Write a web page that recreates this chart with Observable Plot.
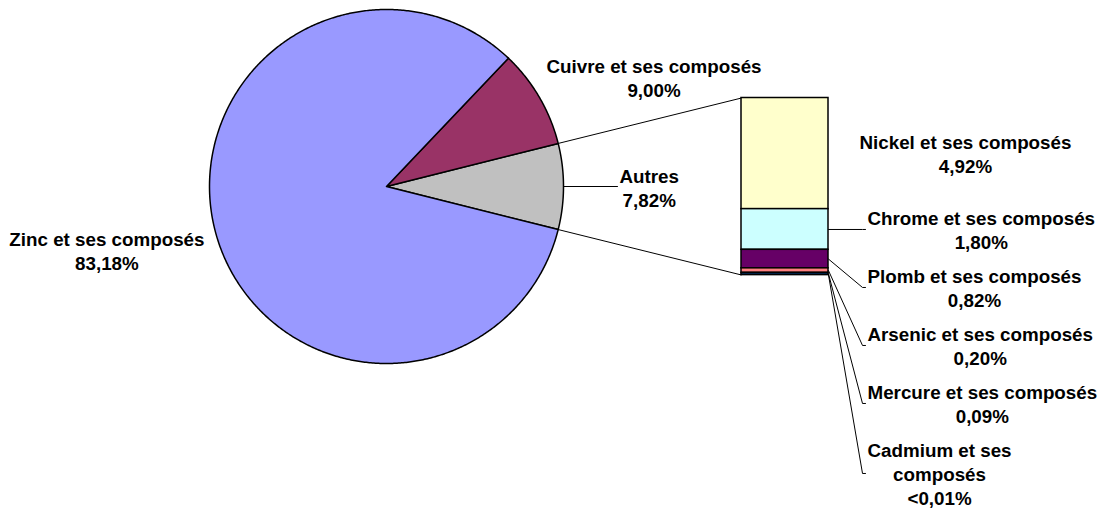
<!DOCTYPE html>
<html><head><meta charset="utf-8">
<script src="https://cdn.jsdelivr.net/npm/d3@7"></script>
<script src="https://cdn.jsdelivr.net/npm/@observablehq/plot@0.6"></script>
<style>body{margin:0;background:#fff} svg{display:block}</style>
</head><body><div id="chart"></div>
<script>
// ---- data ----
const pieNames = ["Zinc et ses composés", "Cuivre et ses composés", "Autres"];
const pieValues = [83.18, 9.00, 7.82];
const pieColors = ["#9999FF", "#993366", "#C0C0C0"];
const barNames = ["Nickel et ses composés", "Chrome et ses composés", "Plomb et ses composés",
                  "Arsenic et ses composés", "Mercure et ses composés", "Cadmium et ses composés"];
const barValues = [4.92, 1.80, 0.82, 0.20, 0.09, 0.005];
const barColors = ["#FFFFCC", "#CCFFFF", "#660066", "#FF8080", "#0066CC", "#CCCCFF"];

// ---- layout ----
const W = 1102, H = 512;
const cx = 386, cy = 186, R = 177;
const FONT = 18.8, LINE = 24;
const fontFamily = "Arial, 'Liberation Sans', sans-serif";
const ctx = document.createElement("canvas").getContext("2d");
ctx.font = `bold ${FONT}px ${fontFamily}`;
const textW = s => d3.max(s.split("\n"), l => ctx.measureText(l).width);
const fmt = v => v < 0.01 ? "<0,01%" : v.toFixed(2).replace(".", ",") + "%";
const pt = (deg, rr = R) => [cx + rr * Math.cos(deg * Math.PI / 180), cy - rr * Math.sin(deg * Math.PI / 180)];

// pie slices, "Autres" centred on the right
const total = d3.sum(pieValues);
const n = pieNames.length;
let ang = -pieValues[n - 1] / total * 180;
const slices = [];
for (let i = n - 1; i >= 0; i--) {
  const span = pieValues[i] / total * 360;
  slices.push({name: pieNames[i], value: pieValues[i], color: pieColors[i], a0: ang, a1: ang + span});
  ang += span;
}
const slicePts = slices.map(s => {
  const pts = [[cx, cy]];
  const steps = Math.max(2, Math.ceil((s.a1 - s.a0) / 0.5));
  for (let k = 0; k <= steps; k++) pts.push(pt(s.a0 + (s.a1 - s.a0) * k / steps));
  pts.push([cx, cy]);
  return pts.map(([x, y]) => ({x, y}));
});
const autres = slices[0];

// bar of pie
const barTotal = d3.sum(barValues);
const barX1 = cx + 355, barX2 = barX1 + 87;
const barY = d3.scaleLinear().domain([0, barTotal]).range([cy - R / 2, cy + R / 2]);
let cum = 0;
const segs = barNames.map((nm, i) => {
  const s = {name: nm, value: barValues[i], color: barColors[i], y1: barY(cum), y2: barY(cum + barValues[i])};
  cum += barValues[i];
  return s;
});

const connectors = [
  {p: pt(autres.a1), q: [barX1, barY(0)]},
  {p: pt(autres.a0), q: [barX1, barY(barTotal)]}
];

// labels
const labels = [];
const leaders = [];
{
  const zt = pieNames[0] + "\n" + fmt(pieValues[0]);
  labels.push({text: zt, x: cx - R - 5 - textW(zt) / 2, y: cy + 64});
  const ct = pieNames[1] + "\n" + fmt(pieValues[1]);
  labels.push({text: ct, x: cx + 160 + textW(ct) / 2, y: cy - 109});
  const at = pieNames[2] + "\n" + fmt(pieValues[2]);
  const aLeft = cx + 233;
  labels.push({text: at, x: aLeft + textW(at) / 2, y: cy + 1});
  leaders.push({id: "autres", x: cx + R, y: cy}, {id: "autres", x: aLeft - 2, y: cy});
}
let prevY = null, prevLines = 0;
segs.forEach((s, i) => {
  const left = i === 0 ? barX2 + 31 : barX2 + 39;
  let name = s.name;
  if (left + textW(name) > W) {
    const k = name.lastIndexOf(" ");
    name = name.slice(0, k) + "\n" + name.slice(k + 1);
  }
  const text = name + "\n" + fmt(s.value);
  const lines = text.split("\n").length;
  const mid = (s.y1 + s.y2) / 2;
  const y = prevY == null ? mid : Math.max(mid, prevY + (prevLines + lines) / 2 * LINE + 10);
  labels.push({text, x: left + textW(text) / 2, y});
  if (i > 0) {
    leaders.push({id: "b" + i, x: barX2, y: mid}, {id: "b" + i, x: left - 5, y}, {id: "b" + i, x: left - 2, y});
  }
  prevY = y; prevLines = lines;
});

const chart = Plot.plot({
  width: W, height: H, margin: 0,
  x: {domain: [0, W], range: [0, W], axis: null},
  y: {domain: [0, H], range: [0, H], axis: null},
  style: {background: "white", fontFamily},
  marks: [
    ...slicePts.map((pts, i) => Plot.line(pts, {x: "x", y: "y", fill: slices[i].color, stroke: "black", strokeWidth: 1.5, strokeLinejoin: "round"})),
    Plot.link(connectors, {x1: d => d.p[0], y1: d => d.p[1], x2: d => d.q[0], y2: d => d.q[1], stroke: "black", strokeWidth: 1}),
    Plot.rect(segs, {x1: () => barX1, x2: () => barX2, y1: "y1", y2: "y2", fill: "color", stroke: "black", strokeWidth: 1.5}),
    Plot.line(leaders, {x: "x", y: "y", z: "id", stroke: "black", strokeWidth: 1}),
    Plot.text(labels, {x: "x", y: "y", text: "text", fontSize: FONT, fontWeight: "bold", lineHeight: LINE / FONT,
      textAnchor: "middle", lineAnchor: "middle", fill: "black", fontFamily})
  ]
});
document.getElementById("chart").appendChild(chart);
</script>
</body></html>
